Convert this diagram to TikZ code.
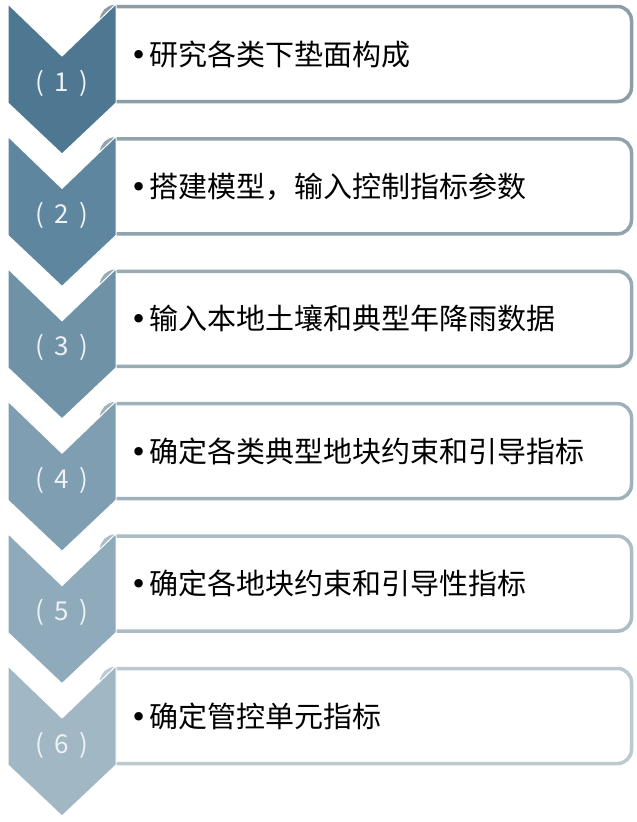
\documentclass[tikz,border=0pt]{standalone}
\usepackage{fontspec}
\newfontfamily\cjk{Noto Sans CJK SC}
\newfontfamily\bulletfont{DejaVu Sans}
\definecolor{chA}{HTML}{4E7891}
\definecolor{chB}{HTML}{5E879F}
\definecolor{chC}{HTML}{6F92A7}
\definecolor{chD}{HTML}{7F9EB1}
\definecolor{chE}{HTML}{8FAABB}
\definecolor{chF}{HTML}{A1B7C4}
\definecolor{bdA}{HTML}{8B9EA7}
\definecolor{bdB}{HTML}{91A4AD}
\definecolor{bdC}{HTML}{98ABB4}
\definecolor{bdD}{HTML}{9FB2BB}
\definecolor{bdE}{HTML}{AABCC4}
\definecolor{bdF}{HTML}{BCC9CF}
\definecolor{numtext}{HTML}{EEF2F4}
\tikzset{
  stepbox/.style={draw=#1, line width=3.5pt, rounded corners=14pt, fill=white,
    minimum width=530pt, minimum height=95pt, inner sep=0pt, outer sep=0pt},
  chev/.style={fill=#1, draw=white, line width=1pt},
  numlabel/.style={text=numtext, font=\cjk\fontsize{26}{30}\selectfont, inner sep=0pt},
  itemtext/.style={anchor=west, text=black, font=\cjk\fontsize{29}{34}\selectfont, inner sep=0pt}
}
\begin{document}
\begin{tikzpicture}[x=1pt,y=-1pt]
\useasboundingbox[fill=white] (0,0) rectangle (637,822);
\foreach \n/\txt/\cc/\bc in {
  1/研究各类下垫面构成/chA/bdA,
  2/搭建模型，输入控制指标参数/chB/bdB,
  3/输入本地土壤和典型年降雨数据/chC/bdC,
  4/确定各类典型地块约束和引导指标/chD/bdD,
  5/确定各地块约束和引导性指标/chE/bdE,
  6/确定管控单元指标/chF/bdF}
{
  \pgfmathsetmacro{\bt}{6.5+(\n-1)*132.4}
  \pgfmathsetmacro{\ct}{4+(\n-1)*132.4}
  \node[stepbox=\bc, anchor=north west] (box\n) at (101.5,\bt) {};
  \node[itemtext] (item\n) at (130,\bt+47.5) {{\bulletfont •}\hspace{2.5pt}\txt};
  \path[chev=\cc] (8,\ct) -- (62,\ct+52) -- (116,\ct) -- (116,\ct+99)
     -- (62,\ct+150) -- (8,\ct+99) -- cycle;
  \node[numlabel] (num\n) at (62,\ct+79) {(\hspace{10pt}\n\hspace{10pt})};
}
\end{tikzpicture}
\end{document}
